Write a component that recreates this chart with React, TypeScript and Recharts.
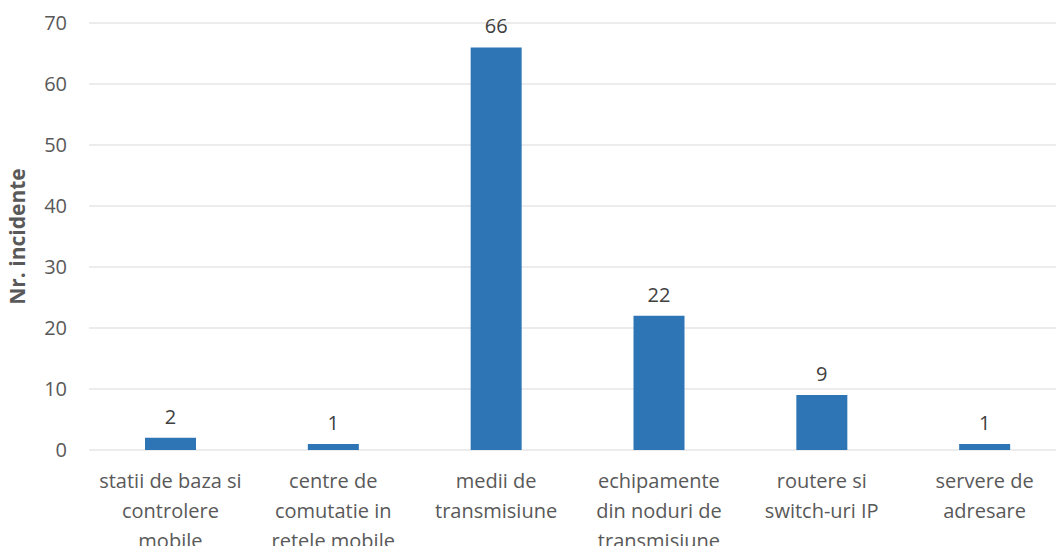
import { BarChart, Bar, XAxis, YAxis, CartesianGrid, LabelList } from "recharts";

const CATEGORIES = [
  "statii de baza si\ncontrolere\nmobile",
  "centre de\ncomutatie in\nretele mobile",
  "medii de\ntransmisiune",
  "echipamente\ndin noduri de\ntransmisiune",
  "routere si\nswitch-uri IP",
  "servere de\nadresare",
];
const INCIDENTS = [2, 1, 66, 22, 9, 1];
const Y_TICKS = [0, 10, 20, 30, 40, 50, 60, 70];

const data = CATEGORIES.map((c, i) => ({ name: c, value: INCIDENTS[i] }));

const FONT = "'Open Sans', sans-serif";

function CategoryTick(props: any) {
  const { x, y, payload } = props;
  const lines = String(payload.value).split("\n");
  return (
    <g transform={`translate(${x},${y})`}>
      {lines.map((line: string, i: number) => (
        <text
          key={i}
          x={0}
          y={i * 30}
          dy={30}
          textAnchor="middle"
          fill="#595959"
          fontSize={20}
          fontFamily={FONT}
        >
          {line}
        </text>
      ))}
    </g>
  );
}

export default function App() {
  return (
    <div style={{ position: "absolute", left: 0, top: 0, background: "#fff", overflow: "hidden", width: 1056, height: 546 }}>
      <BarChart
        width={1056}
        height={546}
        data={data}
        margin={{ top: 23, right: -10, left: 0, bottom: 0 }}
      >
        <CartesianGrid stroke="#d9d9d9" vertical={false} />
        <XAxis
          dataKey="name"
          axisLine={false}
          tickLine={false}
          interval={0}
          height={96}
          tick={<CategoryTick />}
        />
        <YAxis
          domain={[0, 70]}
          ticks={Y_TICKS}
          axisLine={false}
          tickLine={false}
          width={89}
          tickMargin={16}
          tick={{ fontSize: 20, fill: "#595959", fontFamily: FONT }}
          label={{
            value: "Nr. incidente",
            angle: -90,
            position: "insideLeft",
            offset: 18,
            style: {
              textAnchor: "middle",
              fontSize: 21,
              fontWeight: "bold",
              fill: "#595959",
              fontFamily: FONT,
            },
          }}
        />
        <Bar dataKey="value" fill="#2e75b6" barSize={51} isAnimationActive={false}>
          <LabelList
            dataKey="value"
            position="top"
            offset={14}
            fill="#404040"
            fontSize={20}
            fontFamily={FONT}
          />
        </Bar>
      </BarChart>
    </div>
  );
}
